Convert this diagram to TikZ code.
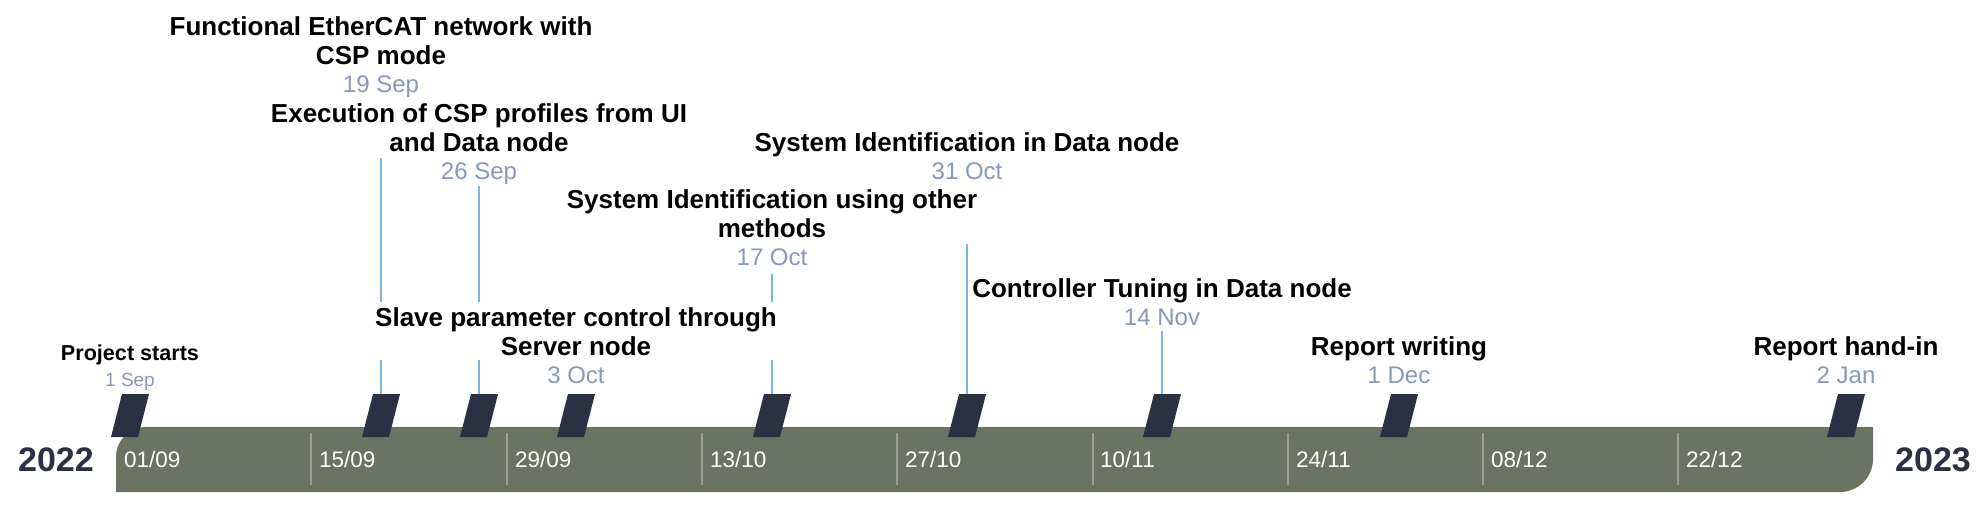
\documentclass[tikz,border=0pt]{standalone}
\usepackage{fontspec}
\setmainfont{Liberation Sans}
\definecolor{barc}{HTML}{6B7363}
\definecolor{navy}{HTML}{2A3142}
\definecolor{datec}{HTML}{8798B8}
\definecolor{linec}{HTML}{7AB6E4}
\definecolor{sepc}{HTML}{9CA092}
\begin{document}
\begin{tikzpicture}[x=1pt,y=-1pt,
	evmark/.pic={\fill[navy] (-19,21.5) -- (-8,-21.5) -- (19,-21.5) -- (8,21.5) -- cycle; \coordinate (-top) at (0,-21.5);},
	evtitle/.style={font=\fontsize{26}{29}\selectfont\bfseries,align=center,anchor=base,fill=white,inner sep=0pt},
	evdate/.style={font=\fontsize{24}{28}\selectfont,text=datec,anchor=base,inner sep=0pt},
	weeklbl/.style={font=\fontsize{22.5}{26}\selectfont,text=white,anchor=base west,inner sep=0pt},
	yearlbl/.style={font=\fontsize{34}{38}\selectfont\bfseries,text=navy,anchor=base,inner sep=0pt},
	evline/.style={linec,line width=2pt}]
	\useasboundingbox (0,0) rectangle (1988,507);

	%bar
	\fill[barc] (116,492) -- (116,457) arc[start angle=180,end angle=270,radius=30] -- (1873,427) -- (1873,459) arc[start angle=0,end angle=90,radius=33] -- cycle;

	%week separators
	\draw[sepc,line width=2pt] (311.3,433) -- (311.3,485);
	\draw[sepc,line width=2pt] (506.6,433) -- (506.6,485);
	\draw[sepc,line width=2pt] (701.9,433) -- (701.9,485);
	\draw[sepc,line width=2pt] (897.2,433) -- (897.2,485);
	\draw[sepc,line width=2pt] (1092.5,433) -- (1092.5,485);
	\draw[sepc,line width=2pt] (1287.8,433) -- (1287.8,485);
	\draw[sepc,line width=2pt] (1483.1,433) -- (1483.1,485);
	\draw[sepc,line width=2pt] (1678.4,433) -- (1678.4,485);

	%week labels
	\node[weeklbl] (w1) at (124,467) {01/09};
	\node[weeklbl] (w2) at (319,467) {15/09};
	\node[weeklbl] (w3) at (515,467) {29/09};
	\node[weeklbl] (w4) at (710,467) {13/10};
	\node[weeklbl] (w5) at (905,467) {27/10};
	\node[weeklbl] (w6) at (1100,467) {10/11};
	\node[weeklbl] (w7) at (1296,467) {24/11};
	\node[weeklbl] (w8) at (1491,467) {08/12};
	\node[weeklbl] (w9) at (1686,467) {22/12};

	%years
	\node[yearlbl] (y1) at (56,471) {2022};
	\node[yearlbl] (y2) at (1933,471) {2023};

	%event markers
	\pic (m1) at (130,415.5) {evmark}; %1 Sep
	\pic (m2) at (381,415.5) {evmark}; %19 Sep
	\pic (m3) at (479,415.5) {evmark}; %26 Sep
	\pic (m4) at (576,415.5) {evmark}; %3 Oct
	\pic (m5) at (772,415.5) {evmark}; %17 Oct
	\pic (m6) at (967,415.5) {evmark}; %31 Oct
	\pic (m7) at (1162,415.5) {evmark}; %14 Nov
	\pic (m8) at (1399,415.5) {evmark}; %1 Dec
	\pic (m9) at (1846,415.5) {evmark}; %2 Jan

	%lines
	\coordinate (t2) at (381,158);
	\coordinate (t3) at (479,186);
	\coordinate (t5) at (772,274);
	\coordinate (t6) at (967,244);
	\coordinate (t7) at (1162,331);
	\draw[evline] (t2) -- (m2-top);
	\draw[evline] (t3) -- (m3-top);
	\draw[evline] (t5) -- (m5-top);
	\draw[evline] (t6) -- (m6-top);
	\draw[evline] (t7) -- (m7-top);

	%titles
	\node[evtitle,font=\fontsize{21.6}{25}\selectfont\bfseries] (e1) at (130,360) {Project starts};
	\node[evtitle] (e2) at (381,64) {Functional EtherCAT network with\\CSP mode};
	\node[evtitle] (e3) at (479,151) {Execution of CSP profiles from UI\\and Data node};
	\node[evtitle,inner ysep=5pt] (e4) at (576,355) {Slave parameter control through\\Server node}; %covers the lines behind it
	\node[evtitle] (e5) at (772,237) {System Identification using other\\methods};
	\node[evtitle] (e6) at (967,151) {System Identification in Data node};
	\node[evtitle] (e7) at (1162,297) {Controller Tuning in Data node};
	\node[evtitle] (e8) at (1399,355) {Report writing};
	\node[evtitle] (e9) at (1846,355) {Report hand-in};

	%dates
	\node[evdate,font=\fontsize{19}{23}\selectfont] (d1) at (130,386) {1 Sep};
	\node[evdate] (d2) at (381,92) {19 Sep};
	\node[evdate] (d3) at (479,179) {26 Sep};
	\node[evdate] (d4) at (576,383) {3 Oct};
	\node[evdate] (d5) at (772,265) {17 Oct};
	\node[evdate] (d6) at (967,179) {31 Oct};
	\node[evdate] (d7) at (1162,325) {14 Nov};
	\node[evdate] (d8) at (1399,383) {1 Dec};
	\node[evdate] (d9) at (1846,383) {2 Jan};
\end{tikzpicture}
\end{document}
